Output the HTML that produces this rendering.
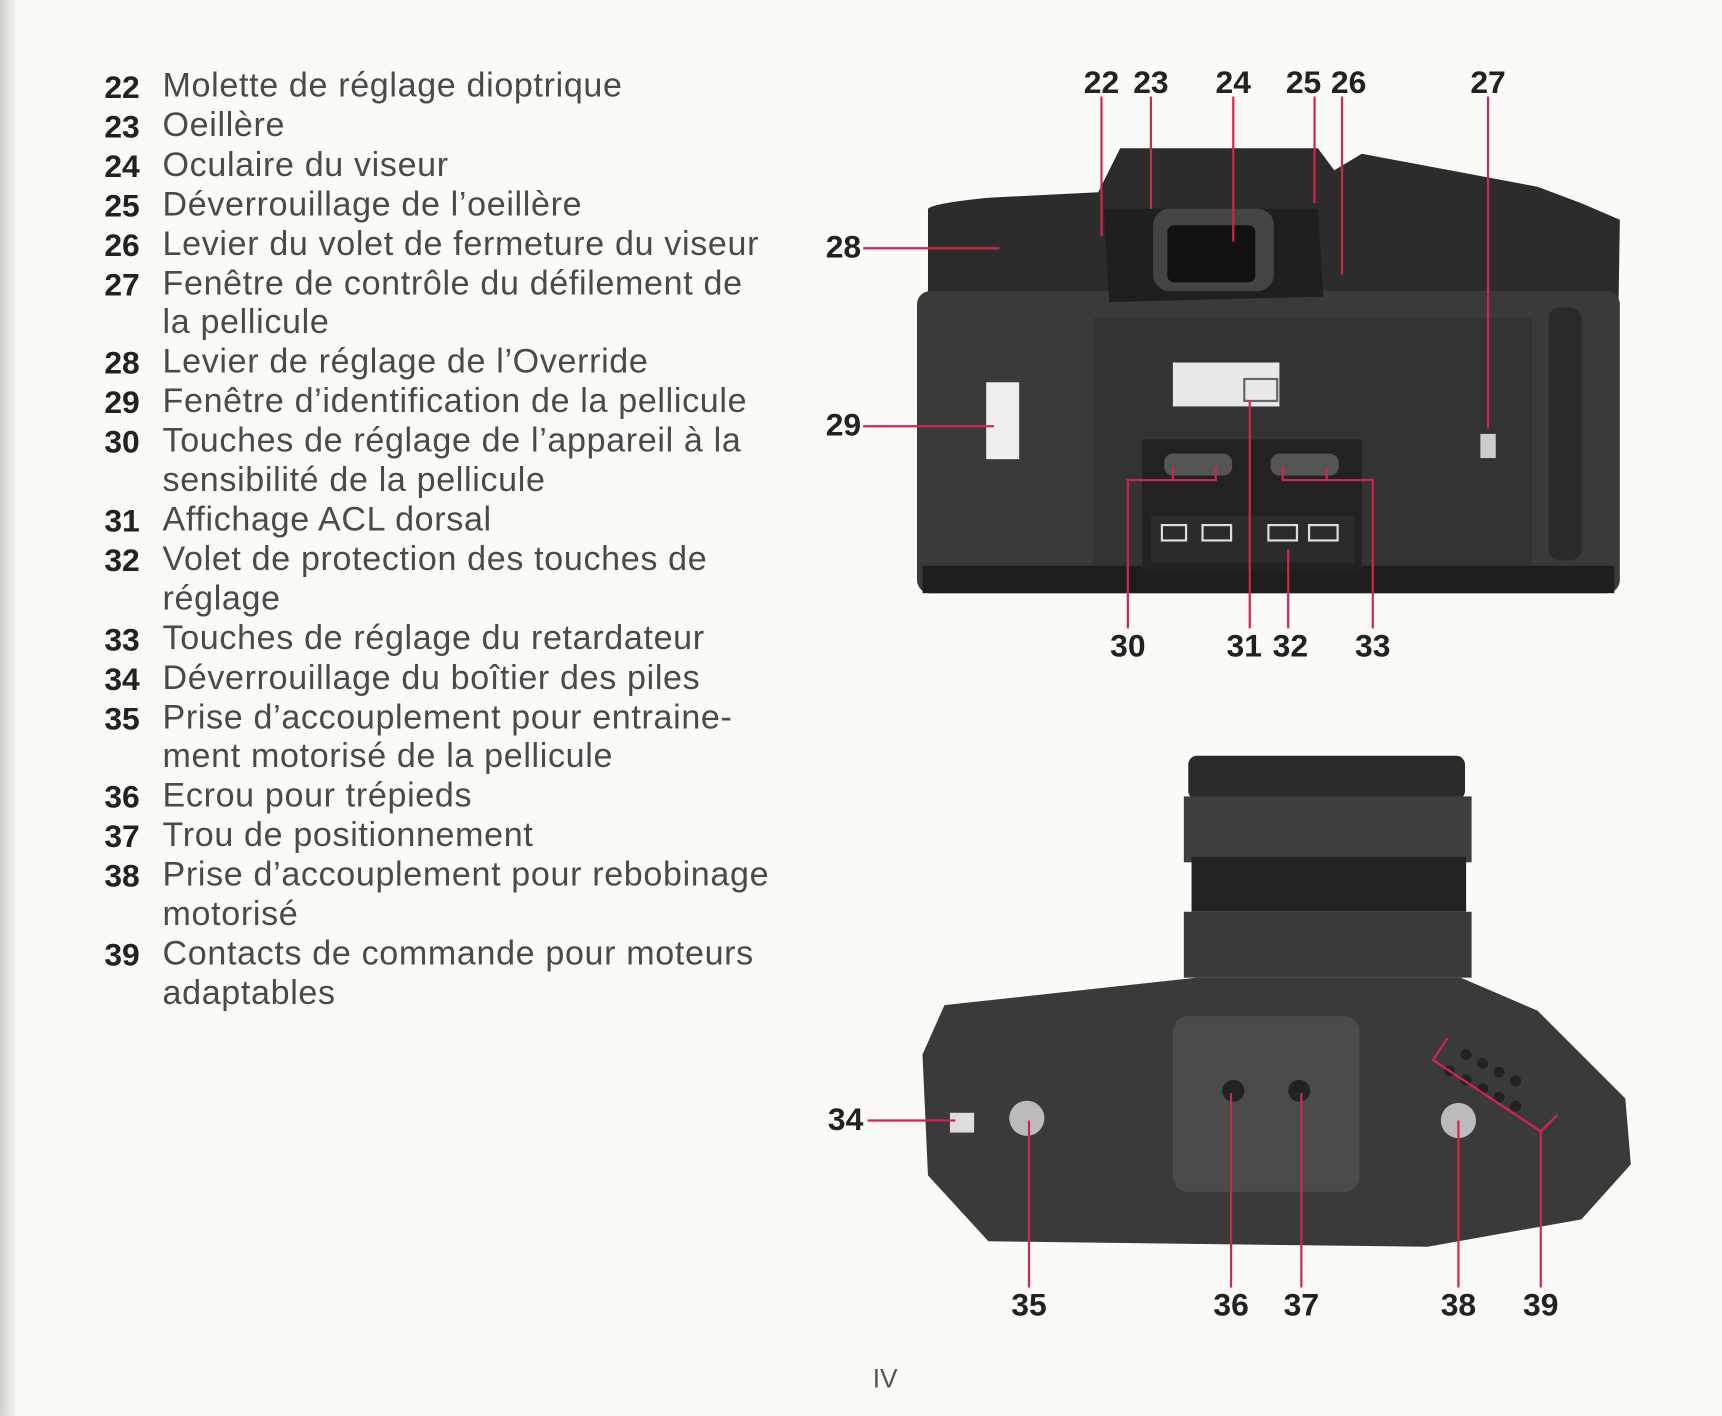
<!DOCTYPE html>
<html><head><meta charset="utf-8">
<style>
html,body{margin:0;padding:0;width:1722px;height:1416px;overflow:hidden;background:#fbfaf7;}
#w{position:absolute;left:0;top:0;width:1568px;height:1289px;transform:scale(1.0982,1.0985);transform-origin:0 0;background:#fbfaf7;}
.edge{position:absolute;left:0;top:0;width:14px;height:1289px;background:linear-gradient(90deg,#cfcfcc,#f3f2ee);}
.list{position:absolute;left:95px;top:60px;font-family:"Liberation Sans",sans-serif;font-size:31px;letter-spacing:0.6px;color:#4a4a4a;line-height:35.9px;}
.list div{position:relative;padding-left:53px;white-space:nowrap;}
.list b{position:absolute;left:0;top:3px;color:#222;font-weight:bold;font-size:29px;letter-spacing:0;}
.n{position:absolute;font-family:"Liberation Sans",sans-serif;font-weight:bold;font-size:29px;color:#222;transform:translate(-50%,-50%);}
svg{position:absolute;left:0;top:0;}
</style></head><body><div id="w">
<div class="edge"></div>
<div class="list">
<div><b>22</b>Molette de réglage dioptrique</div>
<div><b>23</b>Oeillère</div>
<div><b>24</b>Oculaire du viseur</div>
<div><b>25</b>Déverrouillage de l’oeillère</div>
<div><b>26</b>Levier du volet de fermeture du viseur</div>
<div><b>27</b>Fenêtre de contrôle du défilement de</div>
<div>la pellicule</div>
<div><b>28</b>Levier de réglage de l’Override</div>
<div><b>29</b>Fenêtre d’identification de la pellicule</div>
<div><b>30</b>Touches de réglage de l’appareil à la</div>
<div>sensibilité de la pellicule</div>
<div><b>31</b>Affichage ACL dorsal</div>
<div><b>32</b>Volet de protection des touches de</div>
<div>réglage</div>
<div><b>33</b>Touches de réglage du retardateur</div>
<div><b>34</b>Déverrouillage du boîtier des piles</div>
<div><b>35</b>Prise d’accouplement pour entraine-</div>
<div>ment motorisé de la pellicule</div>
<div><b>36</b>Ecrou pour trépieds</div>
<div><b>37</b>Trou de positionnement</div>
<div><b>38</b>Prise d’accouplement pour rebobinage</div>
<div>motorisé</div>
<div><b>39</b>Contacts de commande pour moteurs</div>
<div>adaptables</div>
</div>

<svg width="1568" height="1289" viewBox="0 0 1568 1289">
<path d="M845 190 Q850 185 900 180 L1000 175 L1020 135 L1200 135 L1215 155 L1240 140 L1400 170 L1440 185 L1475 200 L1470 530 L845 540 Z" fill="#2c2c2c"/>
<rect x="835" y="265" width="640" height="275" rx="12" fill="#3a3a3a"/>
<rect x="995" y="290" width="400" height="230" fill="#333"/>
<rect x="840" y="515" width="630" height="25" fill="#1e1e1e"/>
<path d="M1005 190 L1200 190 L1205 270 L1010 275 Z" fill="#1f1f1f"/>
<rect x="1050" y="190" width="110" height="75" rx="15" fill="#444"/>
<rect x="1063" y="205" width="80" height="52" rx="6" fill="#111"/>
<rect x="1068" y="330" width="97" height="40" fill="#e8e8e8"/>
<rect x="1133" y="345" width="30" height="20" fill="none" stroke="#666" stroke-width="2"/>
<rect x="898" y="348" width="30" height="70" fill="#eee"/>
<rect x="1040" y="400" width="200" height="120" fill="#222"/>
<rect x="1048" y="470" width="185" height="42" fill="#2b2b2b"/>
<rect x="1058" y="478" width="22" height="14" fill="none" stroke="#ddd" stroke-width="2"/>
<rect x="1095" y="478" width="26" height="14" fill="none" stroke="#ddd" stroke-width="2"/>
<rect x="1155" y="478" width="26" height="14" fill="none" stroke="#ddd" stroke-width="2"/>
<rect x="1192" y="478" width="26" height="14" fill="none" stroke="#ddd" stroke-width="2"/>
<rect x="1060" y="413" width="62" height="20" rx="8" fill="#555"/>
<rect x="1157" y="413" width="62" height="20" rx="8" fill="#555"/>
<rect x="1410" y="280" width="30" height="230" rx="10" fill="#2a2a2a"/>
<rect x="1348" y="395" width="14" height="22" fill="#ccc"/>
<rect x="1082" y="688" width="252" height="40" rx="8" fill="#2a2a2a"/>
<rect x="1078" y="725" width="262" height="60" fill="#3e3e3e"/>
<rect x="1085" y="780" width="250" height="50" fill="#222"/>
<rect x="1078" y="830" width="262" height="60" fill="#3a3a3a"/>
<path d="M860 915 L1090 890 L1330 890 L1400 920 L1480 1000 L1485 1060 L1440 1110 L1300 1135 L900 1130 L845 1070 L840 960 Z" fill="#3a3a3a"/>
<rect x="1068" y="925" width="170" height="160" rx="14" fill="#4a4a4a"/>
<circle cx="1123" cy="993" r="10" fill="#222"/>
<circle cx="1183" cy="993" r="10" fill="#222"/>
<circle cx="935" cy="1018" r="16" fill="#bbb"/>
<circle cx="1328" cy="1020" r="16" fill="#bbb"/>
<rect x="865" y="1013" width="22" height="18" fill="#ddd"/>
<g fill="#222"><circle cx="1335" cy="960" r="5"/><circle cx="1350" cy="968" r="5"/><circle cx="1365" cy="976" r="5"/><circle cx="1380" cy="984" r="5"/><circle cx="1320" cy="975" r="5"/><circle cx="1335" cy="983" r="5"/><circle cx="1350" cy="991" r="5"/><circle cx="1365" cy="999" r="5"/><circle cx="1380" cy="1007" r="5"/></g>
<g stroke="#d0264e" stroke-width="2" fill="none">
<path d="M1003 88 V215"/><path d="M1048 88 V190"/><path d="M1123 88 V220"/><path d="M1197 88 V185"/><path d="M1222 88 V250"/><path d="M1355 88 V390"/>
<path d="M786 226 H910"/><path d="M786 388 H905"/>
<path d="M1027 572 V437 H1107 V425 M1068 437 V425"/>
<path d="M1138 572 V365"/><path d="M1173 572 V500"/>
<path d="M1250 572 V437 H1168 V425 M1208 437 V425"/>
<path d="M790 1020 H870"/>
<path d="M937 1172 V1020"/><path d="M1121 1172 V995"/><path d="M1185 1172 V995"/><path d="M1328 1172 V1020"/>
<path d="M1403 1172 V1030 L1418 1015 M1403 1030 L1305 965 L1318 945"/>
</g>
</svg>
<div class="n" style="left:1003px;top:76px">22</div>
<div class="n" style="left:1048px;top:76px">23</div>
<div class="n" style="left:1123px;top:76px">24</div>
<div class="n" style="left:1187px;top:76px">25</div>
<div class="n" style="left:1228px;top:76px">26</div>
<div class="n" style="left:1355px;top:76px">27</div>
<div class="n" style="left:768px;top:226px">28</div>
<div class="n" style="left:768px;top:388px">29</div>
<div class="n" style="left:1027px;top:589px">30</div>
<div class="n" style="left:1133px;top:589px">31</div>
<div class="n" style="left:1175px;top:589px">32</div>
<div class="n" style="left:1250px;top:589px">33</div>
<div class="n" style="left:770px;top:1020px">34</div>
<div class="n" style="left:937px;top:1189px">35</div>
<div class="n" style="left:1121px;top:1189px">36</div>
<div class="n" style="left:1185px;top:1189px">37</div>
<div class="n" style="left:1328px;top:1189px">38</div>
<div class="n" style="left:1403px;top:1189px">39</div>
<div class="n" style="left:806px;top:1256px;font-weight:normal;font-size:24px;color:#555">IV</div>
</div></body></html>
